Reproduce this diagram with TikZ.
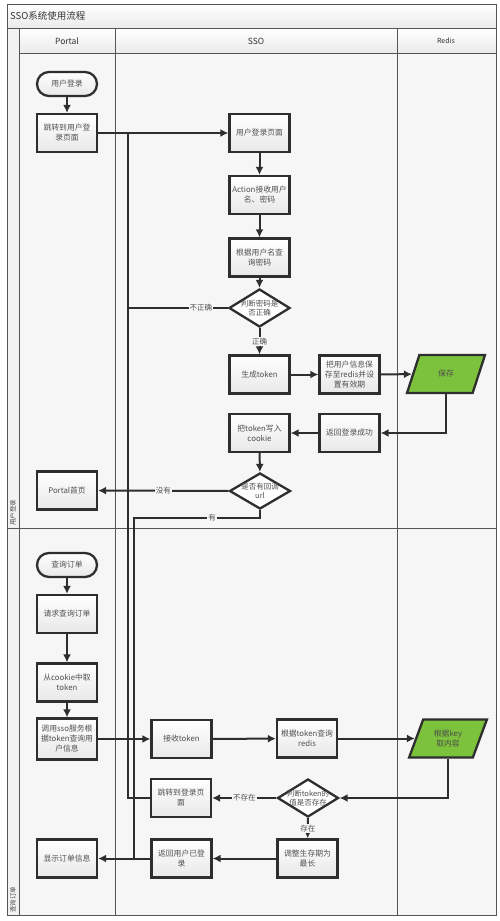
\documentclass[tikz,border=0pt]{standalone}
\usepackage{fontspec}
\setmainfont{Noto Sans CJK SC}
\usetikzlibrary{shapes.geometric,arrows.meta}
\definecolor{edge}{HTML}{2E2E2E}
\definecolor{frame}{HTML}{555555}
\definecolor{lane}{HTML}{F6F6F6}
\definecolor{txt}{HTML}{505050}
\definecolor{grn}{HTML}{7DC23C}
\begin{document}
\begin{tikzpicture}[x=1pt,y=-1pt,
  box/.style={draw=edge, line width=2.3pt, top color=white, bottom color=black!9,
    minimum width=60pt, minimum height=38pt, inner sep=1pt, align=center,
    font=\fontsize{7.8}{10}\selectfont, text=txt},
  term/.style={box, rounded corners=12pt, minimum height=24pt},
  dia/.style={draw=edge, line width=2.3pt, diamond, fill=white, minimum width=61pt, minimum height=38pt, inner sep=0pt},
  dtxt/.style={align=center, font=\fontsize{7.5}{9.5}\selectfont, text=txt, inner sep=0pt},
  para/.style={draw=edge, line width=2.3pt, fill=grn, trapezium, trapezium left angle=66,
    trapezium right angle=114, trapezium stretches=true, minimum width=78pt, minimum height=38pt,
    inner sep=1pt, align=center, font=\fontsize{7.8}{10}\selectfont, text=black!70},
  ln/.style={draw=edge, line width=2pt},
  arr/.style={ln, -{Latex[length=8pt,width=8pt]}},
  lbl/.style={fill=lane, inner sep=1pt, font=\fontsize{7.5}{9}\selectfont, text=txt},
  hdr/.style={font=\fontsize{8.5}{10}\selectfont, text=black!80}
]
\useasboundingbox (0,0) rectangle (500,921);
\fill[white] (0,0) rectangle (500,921);
% frame
\fill[lane] (19,53) rectangle (496,915);
\fill[black!5] (7,28) rectangle (19,915);
\shade[top color=white, bottom color=black!8] (7,4) rectangle (496,28);
\shade[top color=white, bottom color=black!8] (19,28) rectangle (496,53);
\draw[frame, line width=1pt] (7,4) rectangle (496,915);
\draw[frame, line width=1pt] (7,28) -- (496,28);
\draw[frame, line width=1pt] (19,53) -- (496,53);
\draw[frame, line width=1pt] (19,28) -- (19,915);
\draw[frame, line width=1pt] (115,28) -- (115,915);
\draw[frame, line width=1pt] (397,28) -- (397,915);
\draw[frame, line width=1pt] (7,528) -- (496,528);
\node[anchor=west, font=\fontsize{9.5}{11}\selectfont, text=black!80, inner sep=0pt] (title) at (10,16) {SSO系统使用流程};
\node[hdr] (hp) at (67,41) {Portal};
\node[hdr] (hs) at (256,41) {SSO};
\node[hdr, font=\fontsize{7}{8}\selectfont] (hr) at (446,41) {Redis};
\node[rotate=90, anchor=west, font=\fontsize{6.5}{7}\selectfont, text=txt, inner sep=0pt] (lane1) at (13,526) {用户登录};
\node[rotate=90, anchor=west, font=\fontsize{6.5}{7}\selectfont, text=txt, inner sep=0pt] (lane2) at (13,913) {查询订单};

% lane 1 nodes
\node[term] (start) at (67,84) {用户登录};
\node[box] (j1) at (67,133) {跳转到用户登\\录页面};
\node[box] (login) at (259.5,133) {用户登录页面};
\node[box] (act) at (259.5,195) {Action接收用户\\名、密码};
\node[box] (qry) at (259.5,257.5) {根据用户名查\\询密码};
\node[dia] (d1) at (259.5,308) {};
\node[dtxt] (d1t) at (d1) {判断密码是\\否正确};
\node[box] (gen) at (259.5,374.5) {生成token};
\node[box] (savebox) at (349.5,374.5) {把用户信息保\\存至redis并设\\置有效期};
\node[para] (save) at (446,374) {保存};
\node[box] (ret) at (349.5,433) {返回登录成功};
\node[box] (ck) at (259.5,433) {把token写入\\cookie};
\node[dia, minimum height=36pt] (d2) at (260,491) {};
\node[dtxt] (d2t) at (d2) {是否有回调\\url};
\node[box] (portal) at (67,490.5) {Portal首页};

% lane 2 nodes
\node[term] (q0) at (67,565) {查询订单};
\node[box] (q1) at (67,614) {请求查询订单};
\node[box] (q2) at (67,682.5) {从cookie中取\\token};
\node[box, minimum height=41pt] (q3) at (67,739) {调用sso服务根\\据token查询用\\户信息};
\node[box] (recv) at (181.5,739) {接收token};
\node[box] (rq) at (307,738.5) {根据token查询\\redis};
\node[para] (key) at (448,738.5) {根据key\\取内容};
\node[dia] (d3) at (308,798) {};
\node[dtxt] (d3t) at (d3) {判断token的\\值是否存在};
\node[box] (j2) at (181,798) {跳转到登录页\\面};
\node[box] (adj) at (307.5,858.5) {调整生存期为\\最长};
\node[box] (ret2) at (181.5,858.5) {返回用户已登\\录};
\node[box] (show) at (67,858.5) {显示订单信息};

\coordinate (bx1) at (128,133);
\coordinate (bx2) at (134,518);

% connectors lane 1
\draw[arr] (start) -- (j1);
\draw[arr] (j1) -- (login);
\draw[arr] (login) -- (act);
\draw[arr] (act) -- (qry);
\draw[arr] (qry) -- (d1);
\draw[arr] (d1) -- node[lbl]{正确} (gen);
\draw[arr] (gen) -- (savebox);
\draw[arr] (savebox) -- (save);
\draw[arr] (save.center |- save.south) |- (ret.east);
\draw[arr] (ret) -- (ck);
\draw[arr] (ck) -- (d2);
\draw[ln] (d1.west) -- node[lbl, pos=0.27]{不正确} (d1.west -| bx1) -- (bx1);
\draw[arr] (d2) -- node[lbl]{没有} (portal);
\draw[ln] (d2.south) |- node[lbl, pos=0.69]{有} (bx2) -- (bx2 |- show.east);

% connectors lane 2
\draw[arr] (q0) -- (q1);
\draw[arr] (q1) -- (q2);
\draw[arr] (q2) -- (q3);
\draw[arr] (q3) -- (recv);
\draw[arr] (recv) -- (rq);
\draw[arr] (rq) -- (key);
\draw[arr] (key.center |- key.south) |- (d3.east);
\draw[arr] (d3) -- node[lbl]{不存在} (j2);
\draw[ln] (j2.west) -| (bx1);
\draw[arr] (d3) -- node[lbl]{存在} (adj);
\draw[arr] (adj) -- (ret2);
\draw[arr] (ret2) -- (show);
\end{tikzpicture}
\end{document}
